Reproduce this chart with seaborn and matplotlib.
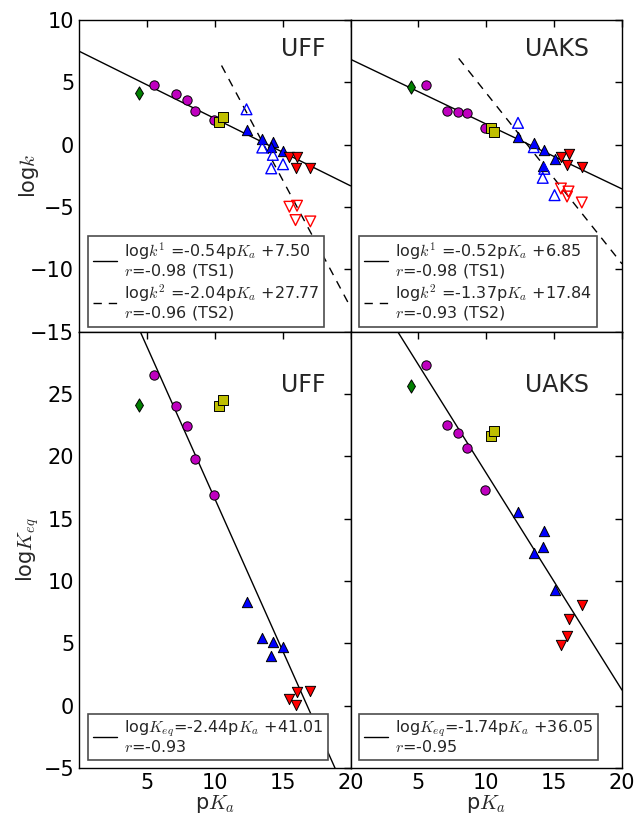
import numpy as np
import pandas as pd
import matplotlib
matplotlib.use("Agg")
import matplotlib.pyplot as plt
import seaborn as sns

# ---------------- data ----------------
pka_diamond = [4.43]
pka_circle = [5.53, 7.13, 7.92, 8.58, 9.92]
pka_square = [10.32, 10.58]
pka_up = [12.34, 13.5, 14.28, 14.16, 15.03]
pka_down = [15.5, 16.06, 15.95, 17.04]

# log k, UFF (TS1 filled, TS2 open)
uff_k_diamond = [4.13]
uff_k_circle = [4.82, 4.04, 3.56, 2.68, 2.01]
uff_k_square = [1.83, 2.25]
uff_k_up = [1.19, 0.46, 0.22, -0.20, -0.52]
uff_k_down = [-0.98, -0.98, -1.90, -1.90]
uff_k2_up = [2.84, -0.23, -0.82, -1.90, -1.57]
uff_k2_down = [-4.98, -4.90, -6.05, -6.16]

# log k, UAKS
uaks_k_diamond = [4.61]
uaks_k_circle = [4.79, 2.71, 2.60, 2.55, 1.32]
uaks_k_square = [1.37, 1.00]
uaks_k_up = [0.62, 0.14, -0.44, -1.75, -1.16]
uaks_k_down = [-1.00, -0.74, -1.60, -1.78]
uaks_k2_up = [1.75, -0.20, -1.94, -2.66, -4.05]
uaks_k2_down = [-3.52, -3.76, -4.16, -4.64]

# log Keq, UFF
uff_eq_diamond = [24.14]
uff_eq_circle = [26.55, 24.0, 22.4, 19.77, 16.93]
uff_eq_square = [24.0, 24.48]
uff_eq_up = [8.28, 5.39, 5.10, 4.00, 4.70]
uff_eq_down = [0.52, 1.11, 0.09, 1.19]

# log Keq, UAKS
uaks_eq_diamond = [25.67]
uaks_eq_circle = [27.32, 22.5, 21.87, 20.69, 17.32]
uaks_eq_square = [21.6, 22.05]
uaks_eq_up = [15.5, 12.23, 14.05, 12.76, 9.3]
uaks_eq_down = [4.84, 6.98, 5.62, 8.07]

# fits (slope, intercept, r)
fit_uff_k1 = (-0.54, 7.50, -0.98)
fit_uff_k2 = (-2.04, 27.77, -0.96)
fit_uaks_k1 = (-0.52, 6.85, -0.98)
fit_uaks_k2 = (-1.37, 17.84, -0.93)
fit_uff_eq = (-2.44, 41.01, -0.93)
fit_uaks_eq = (-1.74, 36.05, -0.95)

# ---------------- style ----------------
sns.set_theme(style="white")
plt.rcParams.update({
    "font.family": ["DejaVu Sans"],
    "mathtext.fontset": "cm",
    "xtick.direction": "in",
    "ytick.direction": "in",
    "xtick.top": True,
    "ytick.right": True,
    "xtick.major.size": 5,
    "ytick.major.size": 5,
    "axes.edgecolor": "black",
    "axes.linewidth": 1.0,
})

C_G = (0, 0.5, 0)
C_M = (0.75, 0, 0.75)
C_Y = (0.75, 0.75, 0)
C_B = (0, 0, 1)
C_R = (1, 0, 0)

fig = plt.figure(figsize=(6.36, 8.16), dpi=100)
gs = fig.add_gridspec(2, 2, height_ratios=[25, 35], hspace=0, wspace=0,
                      left=79/636, right=622/636, top=1-20/816, bottom=1-768/816)
axes = np.array([[fig.add_subplot(gs[i, j]) for j in range(2)] for i in range(2)])


def scatter_set(ax, yd, yc, ys, yu, ydn, open_up=None, open_down=None):
    groups = [
        (pka_diamond, yd, "d", C_G, 45),
        (pka_circle, yc, "o", C_M, 45),
        (pka_square, ys, "s", C_Y, 45),
        (pka_up, yu, "^", C_B, 55),
        (pka_down, ydn, "v", C_R, 55),
    ]
    for xs, ys_, m, c, s in groups:
        df = pd.DataFrame({"x": xs, "y": ys_})
        sns.scatterplot(data=df, x="x", y="y", marker=m, color=c, s=s,
                        edgecolor="black", linewidth=0.7, ax=ax, zorder=3)
    if open_up is not None:
        df = pd.DataFrame({"x": pka_up, "y": open_up})
        sns.scatterplot(data=df, x="x", y="y", marker="^", facecolors="none",
                        edgecolor=C_B, s=60, linewidth=1.0, ax=ax, zorder=3)
    if open_down is not None:
        df = pd.DataFrame({"x": pka_down, "y": open_down})
        sns.scatterplot(data=df, x="x", y="y", marker="v", facecolors="none",
                        edgecolor=C_R, s=60, linewidth=1.0, ax=ax, zorder=3)


def fit_line(ax, fit, x0, x1, ls, label):
    xs = np.array([x0, x1])
    ln, = ax.plot(xs, fit[0]*xs + fit[1], color="black", lw=1.0,
                  linestyle=ls, label=label, zorder=2)
    return ln


LEG_FS = 11.5
DASH = (0, (6, 5))
TXT_FS = 17

# top-left UFF
ax = axes[0, 0]
scatter_set(ax, uff_k_diamond, uff_k_circle, uff_k_square, uff_k_up, uff_k_down,
            uff_k2_up, uff_k2_down)
fit_line(ax, fit_uff_k1, 0, 20, "-",
         "log$k^1$ =%.2fp$K_a$ +%.2f\n$r$=%.2f (TS1)" % fit_uff_k1)
fit_line(ax, fit_uff_k2, 10.5, 20, DASH,
         "log$k^2$ =%.2fp$K_a$ +%.2f\n$r$=%.2f (TS2)" % fit_uff_k2)
ax.text(16.5, 7.65, "UFF", ha="center", va="center", fontsize=TXT_FS)

# top-right UAKS
ax = axes[0, 1]
scatter_set(ax, uaks_k_diamond, uaks_k_circle, uaks_k_square, uaks_k_up, uaks_k_down,
            uaks_k2_up, uaks_k2_down)
fit_line(ax, fit_uaks_k1, 0, 20, "-",
         "log$k^1$ =%.2fp$K_a$ +%.2f\n$r$=%.2f (TS1)" % fit_uaks_k1)
fit_line(ax, fit_uaks_k2, 7.97, 20, DASH,
         "log$k^2$ =%.2fp$K_a$ +%.2f\n$r$=%.2f (TS2)" % fit_uaks_k2)
ax.text(15.2, 7.65, "UAKS", ha="center", va="center", fontsize=TXT_FS)

# bottom-left UFF
ax = axes[1, 0]
scatter_set(ax, uff_eq_diamond, uff_eq_circle, uff_eq_square, uff_eq_up, uff_eq_down)
fit_line(ax, fit_uff_eq, 0, 20, "-",
         "log$K_{eq}$=%.2fp$K_a$ +%.2f\n$r$=%.2f" % fit_uff_eq)
ax.text(16.5, 25.7, "UFF", ha="center", va="center", fontsize=TXT_FS)

# bottom-right UAKS
ax = axes[1, 1]
scatter_set(ax, uaks_eq_diamond, uaks_eq_circle, uaks_eq_square, uaks_eq_up, uaks_eq_down)
fit_line(ax, fit_uaks_eq, 0, 20, "-",
         "log$K_{eq}$=%.2fp$K_a$ +%.2f\n$r$=%.2f" % fit_uaks_eq)
ax.text(15.2, 25.7, "UAKS", ha="center", va="center", fontsize=TXT_FS)

for i in range(2):
    for j in range(2):
        ax = axes[i, j]
        ax.set_xlim(0, 20)
        ax.set_xticks([5, 10, 15, 20])
        if i == 0:
            ax.set_ylim(-15, 10)
            ax.set_yticks([-15, -10, -5, 0, 5, 10])
            ax.tick_params(labelbottom=False)
            ax.set_xlabel("")
        else:
            ax.set_ylim(-5, 30)
            ax.set_yticks([-5, 0, 5, 10, 15, 20, 25])
            ax.set_xlabel("p$K_a$", fontsize=15, labelpad=0)
        if j == 1:
            ax.tick_params(labelleft=False)
            ax.set_ylabel("")
        ax.tick_params(labelsize=15, length=5, width=1, colors="black",
                       top=True, right=True, direction="in")
        for sp in ax.spines.values():
            sp.set_color("black")
            sp.set_linewidth(1.0)
        bb = (0.033, 0.016) if i == 0 else (0.033, 0.018)
        leg = ax.legend(loc="lower left", bbox_to_anchor=bb, borderaxespad=0,
                        fontsize=LEG_FS, frameon=True, fancybox=False,
                        handlelength=1.5, handletextpad=0.45, labelspacing=0.15,
                        borderpad=0.3)
        leg.get_frame().set_edgecolor("0.3")
        leg.get_frame().set_linewidth(1.2)
        leg.get_frame().set_alpha(1)
        for t in leg.get_texts():
            t.set_linespacing(1.0)

axes[0, 0].set_ylabel("log$k$", fontsize=15)
axes[1, 0].set_ylabel("log$K_{eq}$", fontsize=15)
axes[0, 0].yaxis.set_label_coords(-0.14, 0.5)
axes[1, 0].yaxis.set_label_coords(-0.14, 0.5)

fig.savefig("out.png", dpi=100)
